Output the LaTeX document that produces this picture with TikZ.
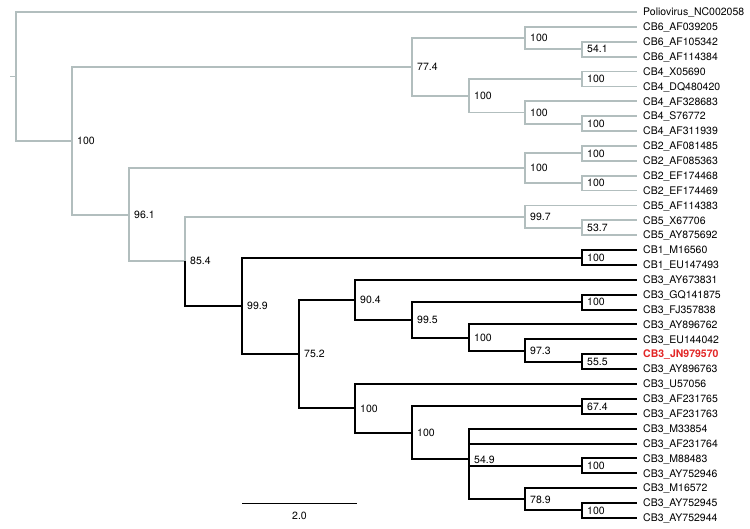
\documentclass[tikz,border=0pt]{standalone}
\usepackage{fontspec}
\setmainfont{TeX Gyre Heros}
\definecolor{branchgray}{RGB}{178,190,190}
\definecolor{hilite}{RGB}{226,38,38}
\begin{document}
\begin{tikzpicture}[x=1pt,y=-1pt,
  gb/.style={draw=branchgray, line width=1.8pt},
  bb/.style={draw=black, line width=2.0pt},
  leaf/.style={anchor=west, inner sep=0pt, font=\fontsize{10.5}{12}\selectfont, text height=7.5pt, text depth=0pt},
  sup/.style={anchor=west, inner sep=0pt, font=\fontsize{10.5}{12}\selectfont, text height=7.5pt, text depth=0pt},
  scalebar/.style={draw=black, line width=0.9pt},
]
\useasboundingbox (0,0) rectangle (750,528);

% leaves
\foreach \lab [count=\i from 0] in {Poliovirus\_NC002058, CB6\_AF039205, CB6\_AF105342, CB6\_AF114384,
  CB4\_X05690, CB4\_DQ480420, CB4\_AF328683, CB4\_S76772, CB4\_AF311939,
  CB2\_AF081485, CB2\_AF085363, CB2\_EF174468, CB2\_EF174469,
  CB5\_AF114383, CB5\_X67706, CB5\_AY875692, CB1\_M16560, CB1\_EU147493,
  CB3\_AY673831, CB3\_GQ141875, CB3\_FJ357838, CB3\_AY896762, CB3\_EU144042,
  {\color{hilite}\bfseries CB3\_JN979570}, CB3\_AY896763, CB3\_U57056,
  CB3\_AF231765, CB3\_AF231763, CB3\_M33854, CB3\_AF231764, CB3\_M88483,
  CB3\_AY752946, CB3\_M16572, CB3\_AY752945, CB3\_AY752944} {
  \coordinate (l\i) at (637, 12+14.88*\i);
  \node[leaf] (t\i) at (643, 12+14.88*\i) {\lab};
}

% internal nodes
\coordinate (n541) at (582, 49.20);
\coordinate (nCB6) at (525, 38.04);
\coordinate (nCB4a) at (582, 78.96);
\coordinate (nCB4c) at (582, 123.60);
\coordinate (nCB4b) at (525, 112.44);
\coordinate (nCB4) at (469, 95.70);
\coordinate (n774) at (412, 66.87);
\coordinate (nCB2a) at (582, 153.36);
\coordinate (nCB2b) at (582, 183.12);
\coordinate (nCB2) at (525, 168.24);
\coordinate (n537) at (582, 227.76);
\coordinate (n997) at (525, 216.60);
\coordinate (nCB1) at (582, 257.52);
\coordinate (nGQ) at (582, 302.16);
\coordinate (n555) at (582, 361.68);
\coordinate (n973) at (525, 350.52);
\coordinate (n100c) at (469, 337.50);
\coordinate (n995) at (412, 319.83);
\coordinate (n904) at (355, 299.84);
\coordinate (n674) at (582, 406.32);
\coordinate (nM88) at (582, 465.84);
\coordinate (nAY) at (582, 510.48);
\coordinate (n789) at (525, 499.32);
\coordinate (n549) at (469, 459.33);
\coordinate (n100e) at (412, 432.83);
\coordinate (n100d) at (355, 408.41);
\coordinate (n752) at (299, 354.13);
\coordinate (n999) at (242, 305.80);
\coordinate (n854) at (185, 261.20);
\coordinate (n961) at (129, 214.72);
\coordinate (nA) at (72, 140.80);
\coordinate (root) at (16, 76.40);
\coordinate (stub) at (10, 76.40);

% gray branches
\draw[gb] (stub) -- (root);
\foreach \p/\c in {root/l0, root/nA, nA/n774, nA/n961, n774/nCB6, n774/nCB4,
  nCB6/l1, nCB6/n541, n541/l2, n541/l3, nCB4/nCB4a, nCB4/nCB4b,
  nCB4a/l4, nCB4a/l5, nCB4b/l6, nCB4b/nCB4c, nCB4c/l7, nCB4c/l8,
  n961/nCB2, n961/n854, nCB2/nCB2a, nCB2/nCB2b, nCB2a/l9, nCB2a/l10,
  nCB2b/l11, nCB2b/l12, n854/n997, n997/l13, n997/n537, n537/l14, n537/l15}
  \draw[gb] (\p) |- (\c);

% black branches
\foreach \p/\c in {n854/n999, n999/nCB1, n999/n752, nCB1/l16, nCB1/l17,
  n752/n904, n752/n100d, n904/l18, n904/n995, n995/nGQ, n995/n100c,
  nGQ/l19, nGQ/l20, n100c/l21, n100c/n973, n973/l22, n973/n555,
  n555/l23, n555/l24, n100d/l25, n100d/n100e, n100e/n674, n100e/n549,
  n674/l26, n674/l27, n549/l28, n549/l29, n549/nM88, n549/n789,
  nM88/l30, nM88/l31, n789/l32, n789/nAY, nAY/l33, nAY/l34}
  \draw[bb] (\p) |- (\c);

% support values
\foreach \n/\v in {nA/100, n774/77.4, nCB6/100, n541/54.1, nCB4/100, nCB4a/100,
  nCB4b/100, nCB4c/100, n961/96.1, nCB2/100, nCB2a/100, nCB2b/100, n854/85.4,
  n997/99.7, n537/53.7, n999/99.9, nCB1/100, n752/75.2, n904/90.4, n995/99.5,
  nGQ/100, n100c/100, n973/97.3, n555/55.5, n100d/100, n100e/100, n674/67.4,
  n549/54.9, nM88/100, n789/78.9, nAY/100}
  \node[sup] (s-\n) at ([xshift=5pt]\n) {\v};

% scale bar
\coordinate (sbL) at (242, 503);
\coordinate (sbR) at (357, 503);
\draw[scalebar] (sbL) -- (sbR);
\node[sup, anchor=center] (sbT) at (299.5, 515.5) {2.0};
\end{tikzpicture}
\end{document}
